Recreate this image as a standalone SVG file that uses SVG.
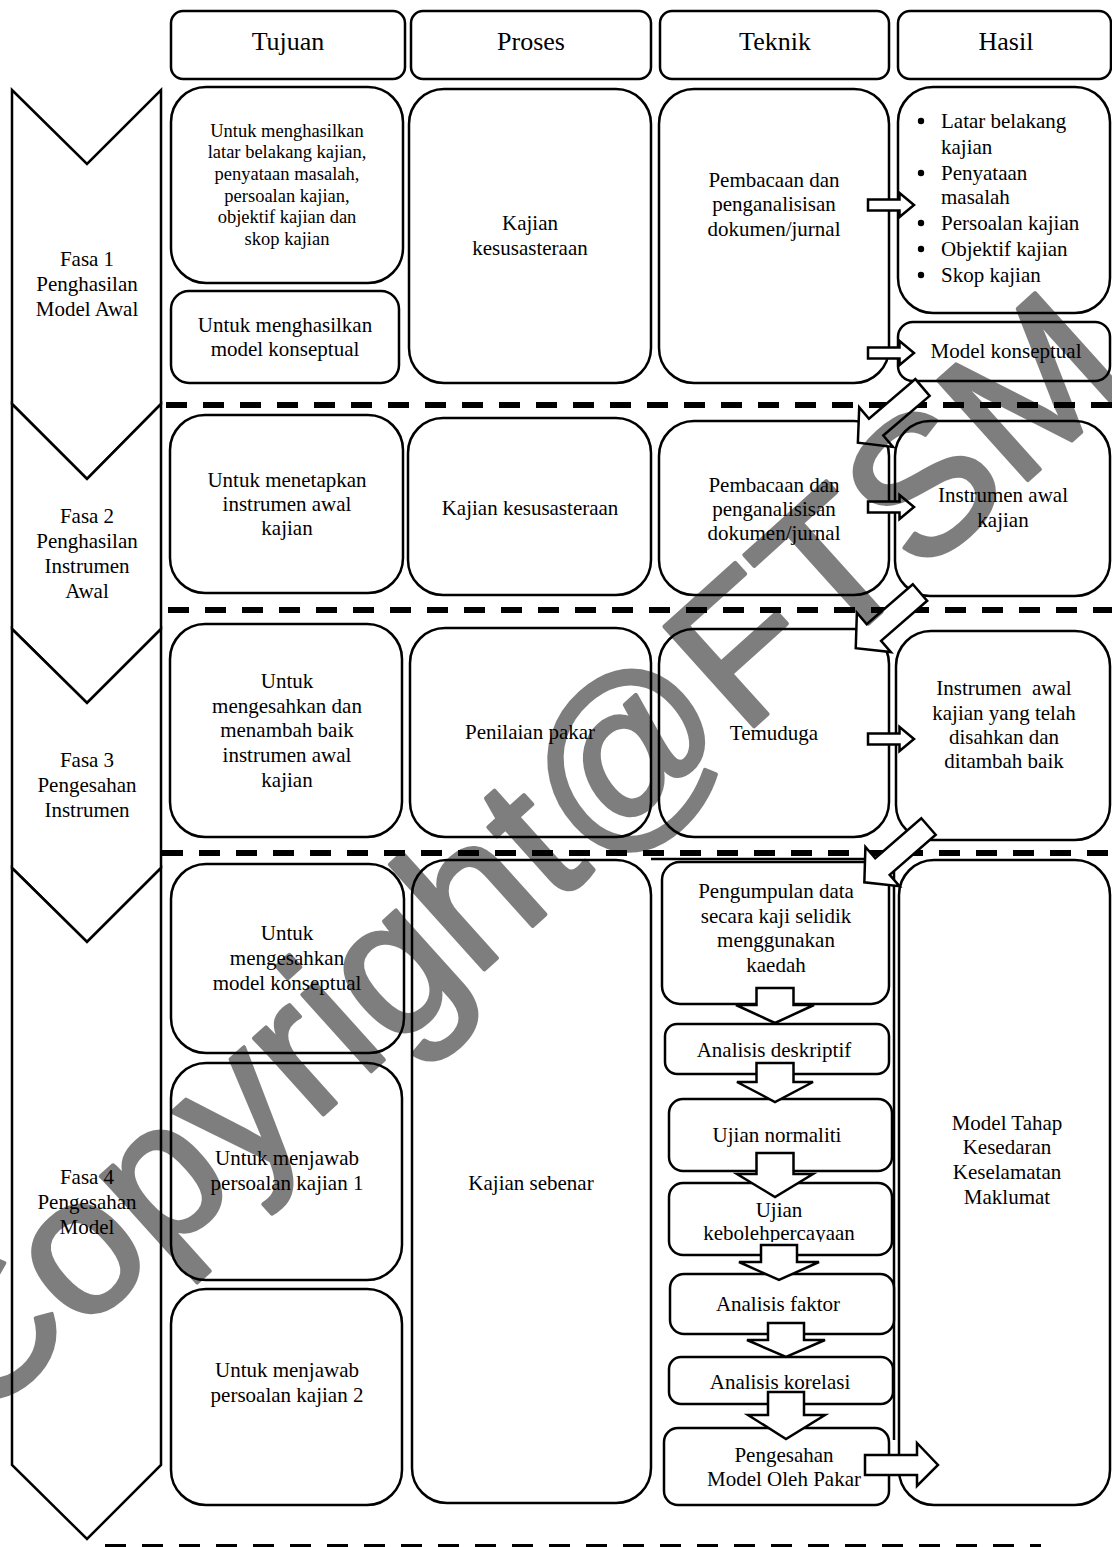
<svg xmlns="http://www.w3.org/2000/svg" width="1112" height="1547" viewBox="0 0 1112 1547">
<style>
.box{fill:#fff;stroke:#000;stroke-width:2.5}
.ln{fill:none;stroke:#000;stroke-width:2.5}
.arr{fill:#fff;stroke:#000;stroke-width:2.5;stroke-linejoin:miter}
.t{font-family:"Liberation Serif","Times New Roman",serif;font-size:21px;text-anchor:middle;fill:#000}
.h{font-size:26px}
.s{font-size:18.5px}
.l{text-anchor:start}
.dash{stroke:#000;stroke-width:6;stroke-dasharray:21 16;fill:none}
.shd{stroke:#777;stroke-width:6;stroke-dasharray:21 16;fill:none;opacity:.55;filter:url(#blur)}
.wm{font-family:"Liberation Sans",Arial,sans-serif;font-size:195px;fill:#000;stroke:#000;stroke-width:4;stroke-linejoin:round}
</style>
<defs>
<filter id="blur" x="-5%" y="-200%" width="110%" height="500%"><feGaussianBlur stdDeviation="1.6"/></filter>
<path id="ra" d="M0,-5.5 H31.5 V-12 L46,0 L31.5,12 V5.5 H0 Z"/>
<path id="da" d="M0,-11 H61 V-26 L85,0 L61,26 V11 H0 Z"/>
<clipPath id="clipKeb"><rect x="660" y="1185" width="240" height="57"/></clipPath>
</defs>
<rect width="1112" height="1547" fill="#fff"/>

<!-- phase chevrons -->
<g id="fasa1"><polygon class="box" points="12,90 87,164 161,90 161,404 87,479 12,404"/>
<text class="t"><tspan x="87" y="266">Fasa 1</tspan><tspan x="87" y="291">Penghasilan</tspan><tspan x="87" y="316">Model Awal</tspan></text></g>
<g id="fasa2"><polygon class="box" points="12,404 87,479 161,404 161,629 87,703 12,629"/>
<text class="t"><tspan x="87" y="523">Fasa 2</tspan><tspan x="87" y="548">Penghasilan</tspan><tspan x="87" y="573">Instrumen</tspan><tspan x="87" y="598">Awal</tspan></text></g>
<g id="fasa3"><polygon class="box" points="12,629 87,703 161,629 161,868 87,942 12,868"/>
<text class="t"><tspan x="87" y="767">Fasa 3</tspan><tspan x="87" y="792">Pengesahan</tspan><tspan x="87" y="817">Instrumen</tspan></text></g>
<g id="fasa4"><polygon class="box" points="12,868 87,942 161,868 161,1465 87,1539 12,1465"/>
<text class="t"><tspan x="87" y="1184">Fasa 4</tspan><tspan x="87" y="1209">Pengesahan</tspan><tspan x="87" y="1234">Model</tspan></text></g>

<!-- headers -->
<g id="hdr-tujuan"><rect class="box" x="171" y="11" width="234" height="68" rx="12"/><text class="t h" x="288" y="50">Tujuan</text></g>
<g id="hdr-proses"><rect class="box" x="411" y="11" width="240" height="68" rx="12"/><text class="t h" x="531" y="50">Proses</text></g>
<g id="hdr-teknik"><rect class="box" x="660" y="11" width="229" height="68" rx="12"/><text class="t h" x="775" y="50">Teknik</text></g>
<g id="hdr-hasil"><rect class="box" x="898" y="11" width="213" height="68" rx="12"/><text class="t h" x="1006" y="50">Hasil</text></g>

<!-- separators -->
<g id="separators">
<line class="shd" x1="166" y1="409" x2="1112" y2="409"/><line class="dash" x1="166" y1="405" x2="1112" y2="405"/>
<line class="shd" x1="168" y1="614" x2="1112" y2="614"/><line class="dash" x1="168" y1="610" x2="1112" y2="610"/>
<line class="shd" x1="162" y1="857" x2="1112" y2="857"/><line class="dash" x1="162" y1="853" x2="1112" y2="853"/>
<line class="dash" x1="105" y1="1547" x2="1041" y2="1547"/>
</g>

<!-- row 1 -->
<g id="t1a"><rect class="box" x="171" y="87" width="232" height="196" rx="35"/>
<text class="t s"><tspan x="287" y="137">Untuk menghasilkan</tspan><tspan x="287" y="158">latar belakang kajian,</tspan><tspan x="287" y="180">penyataan masalah,</tspan><tspan x="287" y="202">persoalan kajian,</tspan><tspan x="287" y="223">objektif kajian dan</tspan><tspan x="287" y="245">skop kajian</tspan></text></g>
<g id="t1b"><rect class="box" x="171" y="291" width="228" height="92" rx="18"/>
<text class="t"><tspan x="285" y="332">Untuk menghasilkan</tspan><tspan x="285" y="356">model konseptual</tspan></text></g>
<g id="p1"><rect class="box" x="409" y="89" width="242" height="294" rx="35"/>
<text class="t"><tspan x="530" y="230">Kajian</tspan><tspan x="530" y="255">kesusasteraan</tspan></text></g>
<g id="k1"><rect class="box" x="659" y="89" width="230" height="294" rx="35"/>
<text class="t"><tspan x="774" y="187">Pembacaan dan</tspan><tspan x="774" y="211">penganalisisan</tspan><tspan x="774" y="236">dokumen/jurnal</tspan></text></g>
<g id="h1a"><rect class="box" x="898" y="87" width="212" height="226" rx="35"/>
<g fill="#000"><circle cx="921" cy="121" r="3.2"/><circle cx="921" cy="173" r="3.2"/><circle cx="921" cy="223" r="3.2"/><circle cx="921" cy="249" r="3.2"/><circle cx="921" cy="275" r="3.2"/></g>
<text class="t l"><tspan x="941" y="128">Latar belakang</tspan><tspan x="941" y="154">kajian</tspan><tspan x="941" y="180">Penyataan</tspan><tspan x="941" y="204">masalah</tspan><tspan x="941" y="230">Persoalan kajian</tspan><tspan x="941" y="256">Objektif kajian</tspan><tspan x="941" y="282">Skop kajian</tspan></text></g>
<g id="h1b"><rect class="box" x="898" y="322" width="212" height="59" rx="15"/><text class="t" x="1006" y="358">Model konseptual</text></g>

<!-- row 2 -->
<g id="t2"><rect class="box" x="170" y="415" width="233" height="178" rx="35"/>
<text class="t"><tspan x="287" y="487">Untuk menetapkan</tspan><tspan x="287" y="511">instrumen awal</tspan><tspan x="287" y="535">kajian</tspan></text></g>
<g id="p2"><rect class="box" x="408" y="418" width="243" height="177" rx="35"/><text class="t" x="530" y="515">Kajian kesusasteraan</text></g>
<g id="k2"><rect class="box" x="659" y="421" width="230" height="174" rx="35"/>
<text class="t"><tspan x="774" y="492">Pembacaan dan</tspan><tspan x="774" y="516">penganalisisan</tspan><tspan x="774" y="540">dokumen/jurnal</tspan></text></g>
<g id="h2"><rect class="box" x="895" y="421" width="215" height="175" rx="35"/>
<text class="t"><tspan x="1003" y="502">Instrumen awal</tspan><tspan x="1003" y="527">kajian</tspan></text></g>

<!-- row 3 -->
<g id="t3"><rect class="box" x="170" y="624" width="232" height="213" rx="35"/>
<text class="t"><tspan x="287" y="688">Untuk</tspan><tspan x="287" y="713">mengesahkan dan</tspan><tspan x="287" y="737">menambah baik</tspan><tspan x="287" y="762">instrumen awal</tspan><tspan x="287" y="787">kajian</tspan></text></g>
<g id="p3"><rect class="box" x="410" y="628" width="241" height="209" rx="35"/><text class="t" x="530" y="739">Penilaian pakar</text></g>
<g id="k3"><rect class="box" x="659" y="629" width="230" height="208" rx="35"/><text class="t" x="774" y="740">Temuduga</text></g>
<g id="h3"><rect class="box" x="896" y="631" width="214" height="209" rx="35"/>
<text class="t" style="white-space:pre"><tspan x="1004" y="695">Instrumen  awal</tspan><tspan x="1004" y="720">kajian yang telah</tspan><tspan x="1004" y="744">disahkan dan</tspan><tspan x="1004" y="768">ditambah baik</tspan></text></g>

<!-- row 4 -->
<g id="t4a"><rect class="box" x="171" y="864" width="233" height="189" rx="35"/>
<text class="t"><tspan x="287" y="940">Untuk</tspan><tspan x="287" y="965">mengesahkan</tspan><tspan x="287" y="990">model konseptual</tspan></text></g>
<g id="t4b"><rect class="box" x="171" y="1063" width="231" height="217" rx="35"/>
<text class="t"><tspan x="287" y="1165">Untuk menjawab</tspan><tspan x="287" y="1190">persoalan kajian 1</tspan></text></g>
<g id="t4c"><rect class="box" x="171" y="1289" width="231" height="216" rx="35"/>
<text class="t"><tspan x="287" y="1377">Untuk menjawab</tspan><tspan x="287" y="1402">persoalan kajian 2</tspan></text></g>
<g id="p4"><rect class="box" x="412" y="860" width="239" height="643" rx="35"/><text class="t" x="531" y="1190">Kajian sebenar</text></g>
<g id="k4"><path class="ln" d="M651,859 H894 V1440"/></g>
<g id="h4"><rect class="box" x="899" y="860" width="211" height="645" rx="35"/>
<text class="t"><tspan x="1007" y="1130">Model Tahap</tspan><tspan x="1007" y="1154">Kesedaran</tspan><tspan x="1007" y="1179">Keselamatan</tspan><tspan x="1007" y="1204">Maklumat</tspan></text></g>
<g id="k4a"><rect class="box" x="662" y="862" width="227" height="142" rx="18"/>
<text class="t"><tspan x="776" y="898">Pengumpulan data</tspan><tspan x="776" y="923">secara kaji selidik</tspan><tspan x="776" y="947">menggunakan</tspan><tspan x="776" y="972">kaedah</tspan></text></g>
<g id="k4b"><rect class="box" x="665" y="1024" width="224" height="50" rx="12"/><text class="t" x="774" y="1057">Analisis deskriptif</text></g>
<g id="k4c"><rect class="box" x="669" y="1099" width="223" height="72" rx="14"/><text class="t" x="777" y="1142">Ujian normaliti</text></g>
<g id="k4d"><rect class="box" x="669" y="1183" width="223" height="72" rx="14"/>
<text class="t" clip-path="url(#clipKeb)"><tspan x="779" y="1217">Ujian</tspan><tspan x="779" y="1240">kebolehpercayaan</tspan></text></g>
<g id="k4e"><rect class="box" x="670" y="1274" width="224" height="60" rx="14"/><text class="t" x="778" y="1311">Analisis faktor</text></g>
<g id="k4f"><rect class="box" x="669" y="1357" width="224" height="47" rx="12"/><text class="t" x="780" y="1389">Analisis korelasi</text></g>
<g id="k4g"><rect class="box" x="664" y="1428" width="225" height="77" rx="14"/>
<text class="t"><tspan x="784" y="1462">Pengesahan</tspan><tspan x="784" y="1486">Model Oleh Pakar</tspan></text></g>

<!-- connectors -->
<g id="connectors">
<use class="arr" href="#ra" x="868" y="205"/>
<use class="arr" href="#ra" x="868" y="353"/>
<use class="arr" href="#ra" x="868" y="507"/>
<use class="arr" href="#ra" x="868" y="739"/>
<use class="arr" href="#da" transform="translate(922.5,387.5) rotate(139.5)"/>
<use class="arr" href="#da" transform="translate(920,592.5) rotate(139.1)"/>
<use class="arr" href="#da" transform="translate(928.5,826.5) rotate(139)"/>
<path class="arr" d="M756.5,988 H793.5 V1005 H814 L775,1023 L736,1005 H756.5 Z"/>
<path class="arr" d="M756.5,1063 H793.5 V1082 H813 L775,1102 L737,1082 H756.5 Z"/>
<path class="arr" d="M756.5,1153 H793.5 V1174 H813 L775,1197 L737,1174 H756.5 Z"/>
<path class="arr" d="M761,1245 H797 V1262 H819 L779,1280 L739,1262 H761 Z"/>
<path class="arr" d="M768,1323 H804 V1340 H825 L786,1357 L747,1340 H768 Z"/>
<path class="arr" d="M768,1392 H804 V1415 H825 L786,1439 L748,1415 H768 Z"/>
<path class="arr" d="M865,1455 H917 V1443 L938,1465 L917,1486 V1475 H865 Z"/>
</g>

<!-- watermark -->
<g opacity="0.5"><text class="wm" transform="translate(-25,1428) rotate(-42)">Copyright@FTSM</text></g>
</svg>
